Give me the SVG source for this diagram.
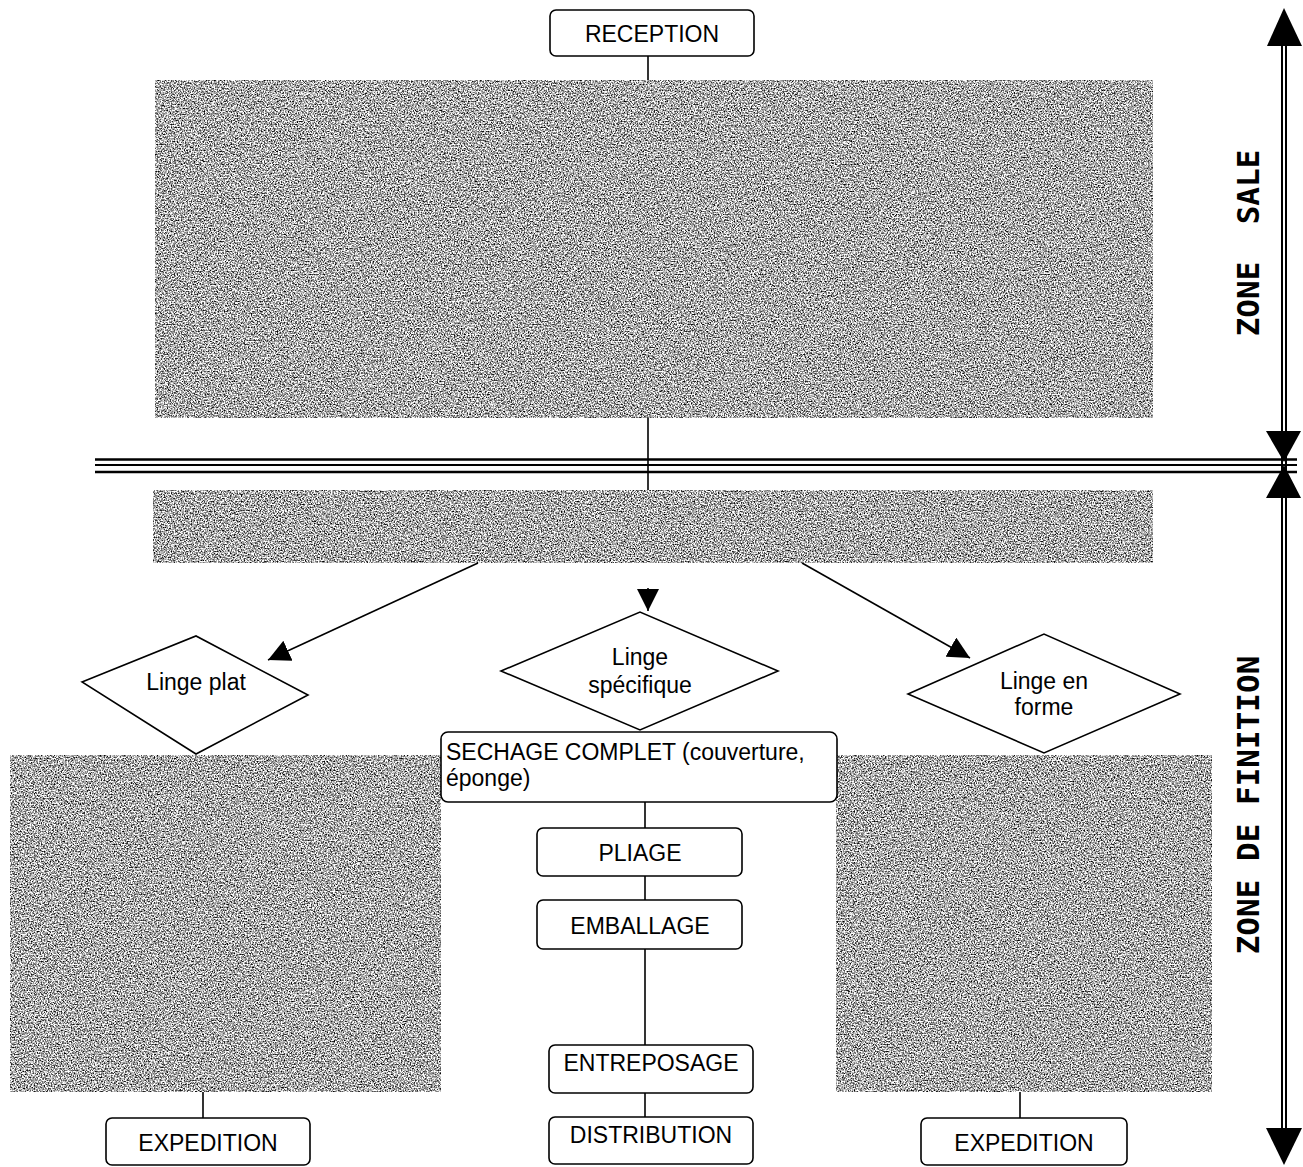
<svg xmlns="http://www.w3.org/2000/svg" width="1303" height="1167" viewBox="0 0 1303 1167">
<style>
.box{fill:#fff;stroke:#000;stroke-width:1.6}
.ln{stroke:#000;stroke-width:1.6;fill:none}
.t{font-family:"Liberation Sans",Arial,sans-serif;font-size:23px;fill:#000}
.z{font-family:"DejaVu Sans Mono",monospace;font-weight:bold;font-size:31px;fill:#000}
.tex{fill:#999;filter:url(#noise)}
</style>
<defs>
<filter id="noise" x="0" y="0" width="100%" height="100%" color-interpolation-filters="sRGB">
<feTurbulence type="fractalNoise" baseFrequency="0.7" numOctaves="2" seed="7" result="n"/>
<feColorMatrix in="n" type="matrix" values="2.4 0 0 0 -0.53  2.4 0 0 0 -0.53  2.4 0 0 0 -0.53  0 0 0 0 1" result="g"/>
<feComposite in="g" in2="SourceGraphic" operator="in"/>
</filter>
<marker id="ah" viewBox="0 0 10 10" refX="10" refY="5" markerWidth="22" markerHeight="22" markerUnits="userSpaceOnUse" orient="auto">
<path d="M0,0 L10,5 L0,10 z" fill="#000"/>
</marker>
</defs>

<g id="zones">
<rect id="zone-top" class="tex" x="155" y="80" width="998" height="338"/>
<rect id="zone-mid" class="tex" x="153" y="490" width="1000" height="73"/>
<rect id="zone-left" class="tex" x="10" y="755" width="431" height="337"/>
<rect id="zone-right" class="tex" x="836" y="755" width="376" height="337"/>
</g>

<g id="separator">
<line x1="95" y1="459.5" x2="1297" y2="459.5" stroke="#000" stroke-width="2.5"/>
<line x1="95" y1="465" x2="1297" y2="465" stroke="#000" stroke-width="2"/>
<line x1="95" y1="472" x2="1297" y2="472" stroke="#000" stroke-width="2.5"/>
</g>

<g id="connectors">
<line class="ln" x1="648" y1="56" x2="648" y2="80"/>
<line class="ln" x1="648" y1="418" x2="648" y2="490"/>
<line class="ln" x1="478" y1="563" x2="268" y2="660" marker-end="url(#ah)"/>
<line class="ln" x1="802" y1="563" x2="970" y2="658" marker-end="url(#ah)"/>
<line class="ln" x1="648" y1="588" x2="648" y2="611" marker-end="url(#ah)"/>
<line class="ln" x1="645" y1="802" x2="645" y2="828"/>
<line class="ln" x1="645" y1="876" x2="645" y2="900"/>
<line class="ln" x1="645" y1="949" x2="645" y2="1045"/>
<line class="ln" x1="645" y1="1093" x2="645" y2="1117"/>
<line class="ln" x1="203" y1="1092" x2="203" y2="1118"/>
<line class="ln" x1="1020" y1="1092" x2="1020" y2="1118"/>
</g>

<g id="zone-axis">
<line x1="1282" y1="30" x2="1282" y2="1140" stroke="#000" stroke-width="2"/>
<line x1="1286" y1="30" x2="1286" y2="1140" stroke="#000" stroke-width="2"/>
<path d="M1284,8 L1302,46 L1267,46 z" fill="#000"/>
<path d="M1266,431 L1301,431 L1284,462 z" fill="#000"/>
<path d="M1284,465 L1301,498 L1266,498 z" fill="#000"/>
<path d="M1266,1128 L1302,1128 L1284,1165 z" fill="#000"/>
<text class="z" transform="translate(1259,243) rotate(-90)" text-anchor="middle" xml:space="preserve">ZONE  SALE</text>
<text class="z" transform="translate(1259,805) rotate(-90)" text-anchor="middle">ZONE DE FINITION</text>
</g>

<g id="reception">
<rect class="box" x="550" y="10" width="204" height="46" rx="6"/>
<text class="t" x="652" y="42" text-anchor="middle">RECEPTION</text>
</g>

<g id="linge-plat">
<polygon class="box" points="82,682 196,636 308,695 196,754"/>
<text class="t" x="196" y="690" text-anchor="middle">Linge plat</text>
</g>

<g id="linge-specifique">
<polygon class="box" points="501,671 640,612 778,671 640,730"/>
<text class="t" x="640" y="665" text-anchor="middle">Linge</text>
<text class="t" x="640" y="693" text-anchor="middle">spécifique</text>
</g>

<g id="linge-forme">
<polygon class="box" points="908,694 1044,634 1180,694 1044,753"/>
<text class="t" x="1044" y="689" text-anchor="middle">Linge en</text>
<text class="t" x="1044" y="715" text-anchor="middle">forme</text>
</g>

<g id="sechage">
<rect class="box" x="441" y="732" width="396" height="70" rx="7"/>
<text class="t" x="446" y="760">SECHAGE COMPLET (couverture,</text>
<text class="t" x="446" y="786">éponge)</text>
</g>

<g id="pliage">
<rect class="box" x="537" y="828" width="205" height="48" rx="6"/>
<text class="t" x="640" y="861" text-anchor="middle">PLIAGE</text>
</g>

<g id="emballage">
<rect class="box" x="537" y="900" width="205" height="49" rx="6"/>
<text class="t" x="640" y="934" text-anchor="middle">EMBALLAGE</text>
</g>

<g id="entreposage">
<rect class="box" x="549" y="1045" width="204" height="48" rx="6"/>
<text class="t" x="651" y="1071" text-anchor="middle">ENTREPOSAGE</text>
</g>

<g id="distribution">
<rect class="box" x="549" y="1117" width="204" height="47" rx="6"/>
<text class="t" x="651" y="1143" text-anchor="middle">DISTRIBUTION</text>
</g>

<g id="expedition-left">
<rect class="box" x="106" y="1118" width="204" height="47" rx="6"/>
<text class="t" x="208" y="1151" text-anchor="middle">EXPEDITION</text>
</g>

<g id="expedition-right">
<rect class="box" x="921" y="1118" width="206" height="47" rx="6"/>
<text class="t" x="1024" y="1151" text-anchor="middle">EXPEDITION</text>
</g>
</svg>
